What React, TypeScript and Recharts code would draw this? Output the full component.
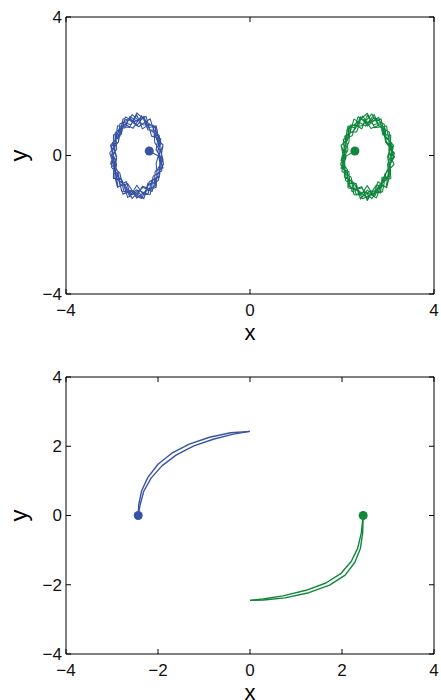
import { ReferenceLine, Scatter, ScatterChart, XAxis, YAxis } from "recharts";

type Pt = [number, number];

// top panel: two tangled orbits and their start points
const blueOrbit: Pt[] = [
  [-2.19, 0.13], [-1.97, -0.03], [-1.94, 0.48], [-2.14, 0.56], [-2.26, 1.13], [-2.51, 0.98], [-2.71, 1.11],
  [-2.83, 0.55], [-2.99, 0.37], [-2.9, -0.1], [-2.96, -0.51], [-2.77, -0.74], [-2.66, -1.21], [-2.42, -1.01],
  [-2.22, -1.12], [-2.1, -0.59], [-1.92, -0.45],
  [-1.92, 0.07], [-2.07, 0.37], [-2.1, 0.87], [-2.33, 0.89], [-2.56, 1.18], [-2.72, 0.88], [-2.93, 0.66],
  [-2.94, 0.13], [-3.03, -0.24], [-2.83, -0.51], [-2.74, -1.04], [-2.53, -1.04], [-2.31, -1.25], [-2.19, -0.76],
  [-1.98, -0.6], [-1.96, -0.2],
  [-1.89, 0.3], [-2.05, 0.54], [-2.17, 1.06], [-2.42, 0.83], [-2.6, 1.07], [-2.83, 0.91], [-2.86, 0.39],
  [-3.05, 0.08], [-2.94, -0.38], [-2.87, -0.9], [-2.66, -0.81], [-2.46, -1.23], [-2.28, -1.04], [-2.04, -0.92],
  [-2.02, -0.42], [-1.89, -0.13],
  [-1.98, 0.32], [-2.02, 0.76], [-2.23, 0.95], [-2.46, 1.23], [-2.62, 0.81], [-2.88, 0.86], [-2.93, 0.4],
  [-3.02, -0.03], [-2.87, -0.48], [-2.79, -1.04], [-2.6, -1.07], [-2.36, -1.24], [-2.21, -0.86], [-1.99, -0.72],
  [-1.95, -0.3],
  [-2.0, 0.12], [-1.98, 0.54], [-2.18, 0.75], [-2.36, 1.15], [-2.54, 0.79], [-2.78, 0.93], [-2.87, 0.54],
  [-3.03, 0.3], [-2.94, -0.28], [-2.9, -0.67], [-2.71, -0.86], [-2.56, -1.24], [-2.33, -0.92], [-2.13, -1.04],
  [-2.01, -0.54], [-1.88, -0.25],
  [-1.91, -0.03], [-1.96, 0.23], [-1.97, 0.57], [-2.08, 0.73], [-2.22, 0.74], [-2.32, 1.07], [-2.46, 0.99],
  [-2.61, 1.13], [-2.71, 0.8], [-2.85, 0.77], [-2.91, 0.48], [-2.9, 0.19], [-2.99, -0.03], [-3.01, -0.34],
  [-2.89, -0.51], [-2.84, -0.79], [-2.76, -1.12], [-2.59, -1.01], [-2.46, -1.17], [-2.34, -0.89], [-2.19, -0.96],
  [-2.06, -0.88], [-2.02, -0.54], [-2.04, -0.23],
  [-2.0, -0.03], [-1.89, 0.3], [-2.03, 0.45], [-2.06, 0.82], [-2.19, 0.9], [-2.34, 0.77], [-2.46, 1.17],
  [-2.59, 0.89], [-2.74, 0.96], [-2.8, 0.6], [-2.97, 0.6], [-2.96, 0.23], [-2.9, -0.03], [-2.96, -0.29],
  [-2.97, -0.66], [-2.8, -0.66], [-2.72, -0.91], [-2.61, -1.19], [-2.46, -0.86], [-2.32, -1.13], [-2.17, -1.12],
  [-2.11, -0.71], [-1.97, -0.63], [-1.95, -0.31],
  [-1.95, -0.03], [-2.04, 0.17], [-2.0, 0.51], [-2.04, 0.86], [-2.21, 0.8], [-2.31, 1.13], [-2.46, 0.86],
  [-2.6, 1.01], [-2.76, 1.06], [-2.82, 0.69], [-2.86, 0.39], [-3.01, 0.28], [-2.96, -0.03], [-2.9, -0.25],
  [-2.94, -0.6], [-2.88, -0.92], [-2.69, -0.75], [-2.6, -1.13], [-2.46, -0.99], [-2.31, -1.25], [-2.22, -0.8],
  [-2.08, -0.79], [-2.06, -0.45], [-1.89, -0.36], [-1.97, -0.03],
];

const greenOrbit: Pt[] = [
  [2.28, 0.13], [2.06, -0.04], [2.03, 0.47], [2.22, 0.57], [2.35, 1.12], [2.59, 0.94], [2.8, 1.1],
  [2.92, 0.55], [3.08, 0.36], [3.0, -0.11], [3.05, -0.52], [2.87, -0.77], [2.75, -1.22], [2.51, -1.05],
  [2.31, -1.13], [2.19, -0.61], [2.0, -0.46],
  [2.02, 0.05], [2.15, 0.38], [2.18, 0.88], [2.42, 0.85], [2.65, 1.2], [2.81, 0.84], [3.03, 0.67],
  [3.02, 0.12], [3.13, -0.26], [2.93, -0.54], [2.83, -1.05], [2.62, -1.02], [2.4, -1.23], [2.27, -0.8],
  [2.07, -0.61], [2.06, -0.21],
  [1.98, 0.29], [2.14, 0.51], [2.26, 1.05], [2.51, 0.85], [2.7, 1.09], [2.92, 0.9], [2.95, 0.38],
  [3.14, 0.07], [3.02, -0.38], [2.96, -0.91], [2.75, -0.85], [2.55, -1.24], [2.37, -1.02], [2.13, -0.93],
  [2.12, -0.42], [1.98, -0.14],
  [2.07, 0.31], [2.11, 0.75], [2.32, 0.94], [2.55, 1.22], [2.71, 0.8], [2.97, 0.85], [3.02, 0.39],
  [3.11, -0.04], [2.96, -0.49], [2.88, -1.05], [2.69, -1.08], [2.45, -1.25], [2.3, -0.87], [2.08, -0.73],
  [2.04, -0.31],
  [2.09, 0.11], [2.07, 0.53], [2.27, 0.74], [2.45, 1.14], [2.63, 0.78], [2.87, 0.92], [2.96, 0.53],
  [3.12, 0.29], [3.03, -0.29], [2.99, -0.68], [2.8, -0.87], [2.65, -1.25], [2.42, -0.93], [2.22, -1.05],
  [2.1, -0.55], [1.97, -0.26],
  [2.02, -0.04], [2.09, 0.19], [2.06, 0.56], [2.19, 0.68], [2.32, 0.68], [2.41, 1.06], [2.55, 0.92],
  [2.7, 1.18], [2.81, 0.84], [2.94, 0.77], [2.96, 0.41], [3.07, 0.24], [3.14, -0.04], [3.03, -0.29],
  [3.03, -0.61], [2.87, -0.63], [2.84, -1.08], [2.68, -1.02], [2.55, -1.3], [2.43, -0.9], [2.28, -0.97],
  [2.15, -0.89], [2.12, -0.52], [2.02, -0.33],
  [2.09, -0.04], [1.98, 0.29], [2.12, 0.44], [2.15, 0.81], [2.28, 0.89], [2.43, 0.77], [2.55, 1.16],
  [2.68, 0.88], [2.83, 0.95], [2.89, 0.59], [3.06, 0.59], [3.05, 0.22], [2.99, -0.04], [3.05, -0.3],
  [3.06, -0.67], [2.89, -0.67], [2.81, -0.92], [2.7, -1.2], [2.55, -0.87], [2.41, -1.14], [2.26, -1.13],
  [2.2, -0.72], [2.06, -0.64], [2.04, -0.32],
  [2.04, -0.04], [2.13, 0.16], [2.09, 0.5], [2.13, 0.85], [2.3, 0.79], [2.4, 1.12], [2.55, 0.85],
  [2.69, 1.0], [2.85, 1.05], [2.91, 0.68], [2.95, 0.38], [3.1, 0.27], [3.05, -0.04], [2.99, -0.26],
  [3.03, -0.61], [2.97, -0.93], [2.78, -0.76], [2.69, -1.14], [2.55, -1.0], [2.4, -1.26], [2.31, -0.81],
  [2.17, -0.8], [2.15, -0.46], [1.98, -0.37], [2.06, -0.04],
];

const blueStartTop: Pt[] = [[-2.19, 0.13]];
const greenStartTop: Pt[] = [[2.28, 0.13]];

// bottom panel: two arcs, each drawn as a pair of close strands
const blueArcOuter: Pt[] = [
  [-2.43, 0], [-2.42, 0.3], [-2.36, 0.7], [-2.22, 1.1], [-2.0, 1.48], [-1.7, 1.8], [-1.32, 2.06], [-0.88, 2.26], [-0.42, 2.39], [0, 2.43],
];
const blueArcInner: Pt[] = [
  [-2.43, 0], [-2.39, 0.3], [-2.31, 0.7], [-2.15, 1.08], [-1.91, 1.44], [-1.6, 1.75], [-1.22, 2.01], [-0.78, 2.21], [-0.36, 2.35], [0, 2.43],
];
const greenArcOuter: Pt[] = [
  [2.46, 0], [2.45, -0.5], [2.4, -0.95], [2.28, -1.35], [2.07, -1.72], [1.73, -2.01], [1.28, -2.23], [0.76, -2.38], [0.3, -2.44], [0, -2.45],
];
const greenArcInner: Pt[] = [
  [2.46, 0], [2.42, -0.5], [2.34, -0.95], [2.2, -1.33], [1.98, -1.67], [1.65, -1.95], [1.22, -2.16], [0.72, -2.32], [0.28, -2.41], [0, -2.45],
];
const blueStartBottom: Pt[] = [[-2.43, 0]];
const greenStartBottom: Pt[] = [[2.46, 0]];

const topTicks = [-4, 0, 4];
const bottomTicks = [-4, -2, 0, 2, 4];

const BLUE = "#3853a4";
const GREEN = "#10873d";
const FONT = "'Liberation Sans', Arial, Helvetica, sans-serif";
const PLOT_TOP = 17;
const PLOT_RIGHT = 434;
const X_GAP = 10;
const Y_GAP = 4;
const TICK_LEN = 5;

const toXY = (pts: Pt[]) => pts.map(([x, y]) => ({ x, y }));
const fmt = (v: number) => (v < 0 ? "\u2212" + Math.abs(v) : String(v));

function XTick(props: any) {
  const { x, y, payload } = props;
  const axisY = y - X_GAP;
  return (
    <g>
      <line x1={x} x2={x} y1={axisY} y2={axisY - TICK_LEN} stroke="#000" />
      <line x1={x} x2={x} y1={PLOT_TOP} y2={PLOT_TOP + TICK_LEN} stroke="#000" />
      <text x={x} y={y} dy="0.71em" textAnchor="middle" fontSize={17} fill="#111">
        {fmt(payload.value)}
      </text>
    </g>
  );
}

function YTick(props: any) {
  const { x, y, payload } = props;
  const axisX = x + Y_GAP;
  return (
    <g>
      <line x1={axisX} x2={axisX + TICK_LEN} y1={y} y2={y} stroke="#000" />
      <line x1={PLOT_RIGHT} x2={PLOT_RIGHT - TICK_LEN} y1={y} y2={y} stroke="#000" />
      <text x={x} y={y} dy="0.35em" textAnchor="end" fontSize={17} fill="#111">
        {fmt(payload.value)}
      </text>
    </g>
  );
}

function YLabel(props: any) {
  const vb = props.viewBox || {};
  const cy = vb.height ? vb.y + vb.height / 2 : 155.5;
  return (
    <text x={27} y={cy} transform={`rotate(-90 27 ${cy})`} textAnchor="middle" fontSize={24} fill="#000">
      y
    </text>
  );
}

const dot = (color: string) => (p: any) => <circle cx={p.cx} cy={p.cy} r={4.5} fill={color} />;
const noMark = () => <g />;

function axes(ticks: number[]) {
  return [
    <XAxis
      key="x"
      type="number"
      dataKey="x"
      domain={[-4, 4]}
      ticks={ticks}
      interval={0}
      allowDataOverflow
      height={46}
      tickSize={0}
      tickMargin={X_GAP}
      tickLine={false}
      axisLine={{ stroke: "#000" }}
      tick={<XTick />}
      label={{ value: "x", position: "insideBottom", offset: 0, fontSize: 22, fill: "#000" }}
    />,
    <YAxis
      key="y"
      type="number"
      dataKey="y"
      domain={[-4, 4]}
      ticks={ticks}
      interval={0}
      allowDataOverflow
      width={66}
      tickSize={0}
      tickMargin={Y_GAP}
      tickLine={false}
      axisLine={{ stroke: "#000" }}
      tick={<YTick />}
      label={<YLabel />}
    />,
    <ReferenceLine key="top" y={4} stroke="#000" />,
    <ReferenceLine key="right" x={4} stroke="#000" />,
  ];
}

function trace(key: string, pts: Pt[], color: string, width: number) {
  return (
    <Scatter
      key={key}
      data={toXY(pts)}
      fill={color}
      stroke={color}
      line={{ stroke: color, strokeWidth: width, strokeLinejoin: "round" }}
      lineType="joint"
      shape={noMark}
      isAnimationActive={false}
    />
  );
}

function start(key: string, pts: Pt[], color: string) {
  return <Scatter key={key} data={toXY(pts)} fill={color} shape={dot(color)} isAnimationActive={false} />;
}

export default function App() {
  return (
    <div style={{ position: "absolute", left: 0, top: 0, width: 441, height: 700, background: "#fff", fontFamily: FONT }}>
      <ScatterChart width={441} height={360} margin={{ top: PLOT_TOP, right: 7, bottom: 20, left: 0 }}>
        {axes(topTicks)}
        {trace("bo", blueOrbit, BLUE, 1.1)}
        {trace("go", greenOrbit, GREEN, 1.1)}
        {start("bs", blueStartTop, BLUE)}
        {start("gs", greenStartTop, GREEN)}
      </ScatterChart>
      <ScatterChart width={441} height={340} margin={{ top: PLOT_TOP, right: 7, bottom: 0, left: 0 }}>
        {axes(bottomTicks)}
        {trace("ba", blueArcOuter, BLUE, 1.4)}
        {trace("bb", blueArcInner, BLUE, 1.4)}
        {trace("ga", greenArcOuter, GREEN, 1.4)}
        {trace("gb", greenArcInner, GREEN, 1.4)}
        {start("bs2", blueStartBottom, BLUE)}
        {start("gs2", greenStartBottom, GREEN)}
      </ScatterChart>
    </div>
  );
}
